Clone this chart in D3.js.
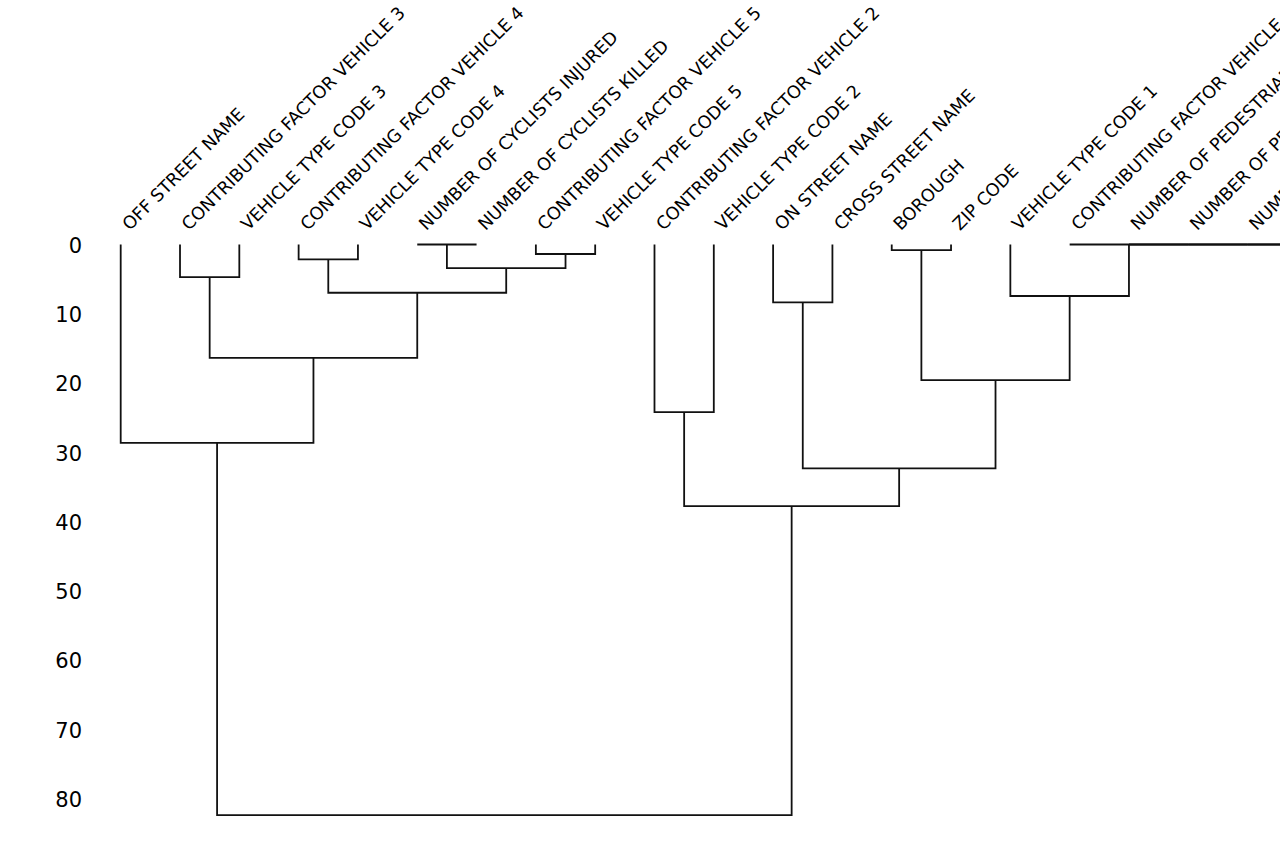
<!DOCTYPE html>
<html>
<head>
<meta charset="utf-8">
<script src="https://cdn.jsdelivr.net/npm/d3@7"></script>
<style>
  body { margin: 0; background: #fff; overflow: hidden; }
  svg { display: block; font-family: "DejaVu Sans", sans-serif; }
</style>
</head>
<body>
<svg id="chart" width="1280" height="853"></svg>
<script>
// columns, in dendrogram leaf order
const leaves = [
  "OFF STREET NAME",
  "CONTRIBUTING FACTOR VEHICLE 3",
  "VEHICLE TYPE CODE 3",
  "CONTRIBUTING FACTOR VEHICLE 4",
  "VEHICLE TYPE CODE 4",
  "NUMBER OF CYCLISTS INJURED",
  "NUMBER OF CYCLISTS KILLED",
  "CONTRIBUTING FACTOR VEHICLE 5",
  "VEHICLE TYPE CODE 5",
  "CONTRIBUTING FACTOR VEHICLE 2",
  "VEHICLE TYPE CODE 2",
  "ON STREET NAME",
  "CROSS STREET NAME",
  "BOROUGH",
  "ZIP CODE",
  "VEHICLE TYPE CODE 1",
  "CONTRIBUTING FACTOR VEHICLE 1",
  "NUMBER OF PEDESTRIANS INJURED",
  "NUMBER OF PEDESTRIANS KILLED",
  "NUMBER OF PERSONS INJURED",
  "NUMBER OF PERSONS KILLED",
  "NUMBER OF MOTORIST INJURED",
  "NUMBER OF MOTORIST KILLED",
  "UNIQUE KEY",
  "DATE",
  "TIME",
  "LATITUDE",
  "LONGITUDE",
  "LOCATION"
];

// linkage rows: [left, right, distance]; ids >= leaves.length are earlier rows
const linkage = [
  [5, 6, 0],
  [7, 8, 1.37],
  [3, 4, 2.14],
  [29, 30, 3.4],
  [1, 2, 4.7],
  [31, 32, 6.97],
  [33, 34, 16.36],
  [0, 35, 28.64],
  [13, 14, 0.8],
  [27, 28, 0],
  [26, 38, 0],
  [25, 39, 0],
  [24, 40, 0],
  [23, 41, 0],
  [22, 42, 0],
  [21, 43, 0],
  [20, 44, 0],
  [19, 45, 0],
  [18, 46, 0],
  [17, 47, 0],
  [16, 48, 0],
  [15, 49, 7.44],
  [11, 12, 8.35],
  [37, 50, 19.58],
  [9, 10, 24.2],
  [51, 52, 32.34],
  [53, 54, 37.79],
  [36, 55, 82.4]
];

const yTicks = [0, 10, 20, 30, 40, 50, 60, 70, 80];

const svg = d3.select("#chart");
const n = leaves.length;
const step = 59.31;

const x = d3.scalePoint()
  .domain(leaves)
  .range([120.7, 120.7 + step * (n - 1)]);

const y = d3.scaleLinear()
  .domain([0, 80])
  .range([244.5, 798.5]);

// x centre and height of every node
const nodeX = leaves.map((d) => x(d));
const nodeH = leaves.map(() => 0);
linkage.forEach(([a, b, h]) => {
  nodeX.push((nodeX[a] + nodeX[b]) / 2);
  nodeH.push(h);
});

svg.append("g")
  .attr("class", "links")
  .selectAll("path")
  .data(linkage)
  .join("path")
  .attr("d", ([a, b, h]) =>
    `M${nodeX[a]},${y(nodeH[a])}V${y(h)}H${nodeX[b]}V${y(nodeH[b])}`)
  .attr("fill", "none")
  .attr("stroke", "#111")
  .attr("stroke-width", 1.8);

// y axis, no ticks or spine
const yAxis = svg.append("g")
  .attr("transform", "translate(91,0)")
  .call(d3.axisLeft(y).tickValues(yTicks).tickSize(0).tickPadding(9));
yAxis.select(".domain").remove();
yAxis.selectAll("text")
  .attr("font-size", 21)
  .attr("font-family", "DejaVu Sans")
  .attr("fill", "#000")
  .attr("dy", "0.38em");

// column labels along the top, rotated 45 degrees
svg.append("g")
  .attr("class", "labels")
  .selectAll("text")
  .data(leaves)
  .join("text")
  .attr("transform", (d) => `translate(${x(d) + 9},231.3) rotate(-45)`)
  .attr("font-size", 17.6)
  .attr("fill", "#000")
  .text((d) => d);
</script>
</body>
</html>
